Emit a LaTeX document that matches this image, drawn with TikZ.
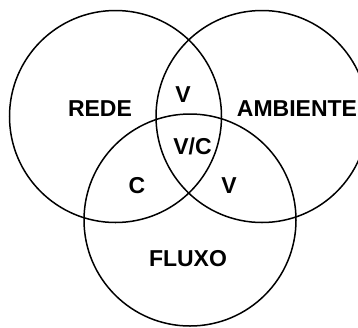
\documentclass[tikz,border=0pt]{standalone}
\usepackage{fontspec}
\setmainfont{Liberation Sans}
\usetikzlibrary{positioning}

\begin{document}
\begin{tikzpicture}[x=1pt,y=-1pt,
	setb/.style={
	  draw=black,
	  circle,
	  line width=1.5pt,
	  inner sep=0pt,
	  minimum size=212pt
	},
	labelb/.style={
	  font=\fontsize{23}{27}\selectfont\bfseries,
	  inner sep=0pt,
	  text height=16.5pt,
	  text depth=0pt
	}]

	\useasboundingbox (0,0) rectangle (358,327);
	\clip (0,0) rectangle (358,327);

	\node[setb] (Rede) at (115.5,116.5) {};
	\node[setb] (Ambiente) at (262,116.5) {};
	\node[setb] (Fluxo) at (190,220) {};

	\node[labelb] (RedeL) at (100,108) {REDE};
	\node[labelb] (AmbienteL) at (297,108) {AMBIENTE};
	\node[labelb] (FluxoL) at (188,258) {FLUXO};

	\node[labelb] (RA) at (183,94) {V};
	\node[labelb] (RAF) at (192.5,146) {V/C};
	\node[labelb] (RF) at (137,185) {C};
	\node[labelb] (AF) at (229,185) {V};
\end{tikzpicture}
\end{document}
